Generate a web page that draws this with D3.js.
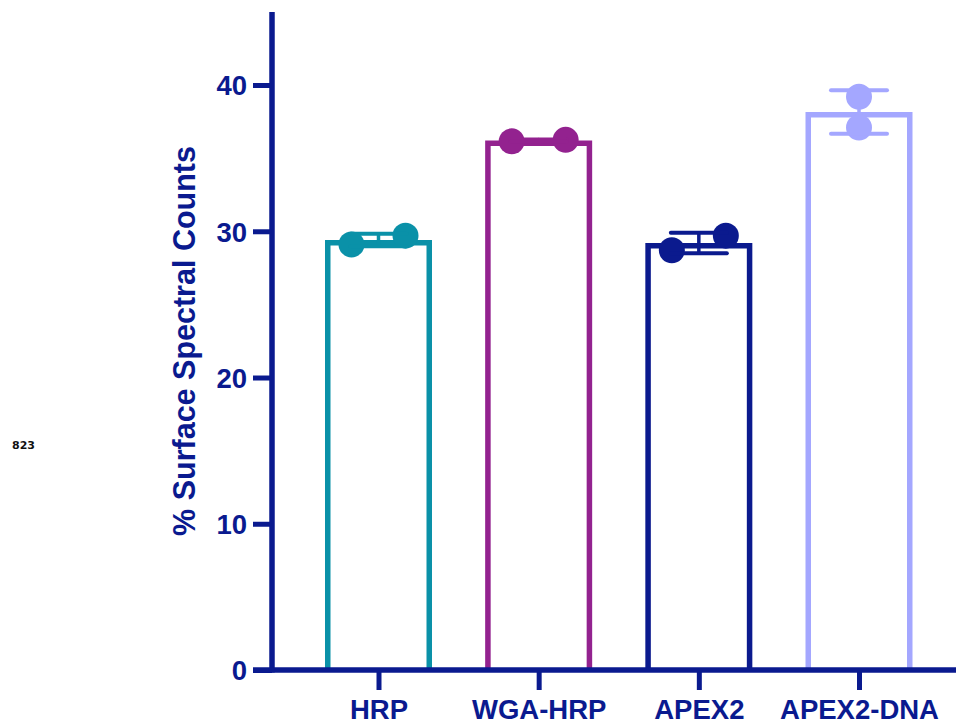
<!DOCTYPE html>
<html>
<head>
<meta charset="utf-8">
<script src="https://cdn.jsdelivr.net/npm/d3@7"></script>
<style>
  html, body { margin: 0; padding: 0; background: #fff; }
  svg { display: block; font-family: Arial, "Liberation Sans", sans-serif; }
</style>
</head>
<body>
<svg id="chart" width="956" height="727"></svg>
<script>
// ---- data ----
const categories = ["HRP", "WGA-HRP", "APEX2", "APEX2-DNA"];
const replicates = [
  [29.1, 29.7],
  [36.15, 36.25],
  [28.7, 29.7],
  [39.2, 37.1]
];
const colors = ["#0A91A8", "#93228F", "#0B1A8E", "#A4A7FF"];
const yTicks = [0, 10, 20, 30, 40];
const yLabel = "% Surface Spectral Counts";
const sideNote = "823";

// ---- layout ----
const axisColor = "#0A1A8F";
const svg = d3.select("#chart");
const y = d3.scaleLinear().domain([0, 45]).range([670, 11.9]);
const x = d3.scalePoint().domain(categories).range([378.5, 859]);
const barW = 107, sw = 5.5, r = 13, dotOff = 27, whisk = 56;

const stats = replicates.map(v => ({ mean: d3.mean(v), sd: d3.deviation(v) }));

// bars (open at the bottom, outline drawn inside the bar extent)
categories.forEach((c, i) => {
  const cx = x(c);
  const m = stats[i].mean;
  const x0 = cx - barW / 2 + sw / 2, x1 = cx + barW / 2 - sw / 2;
  const yt = y(m) + sw / 2, yb = y(0);
  const p = d3.path();
  p.moveTo(x0, yb); p.lineTo(x0, yt); p.lineTo(x1, yt); p.lineTo(x1, yb);
  svg.append("path")
    .attr("d", p.toString())
    .attr("fill", "none")
    .attr("stroke", colors[i])
    .attr("stroke-width", sw)
    .attr("stroke-linejoin", "miter");
});

// dots
categories.forEach((c, i) => {
  const cx = x(c);
  const vals = replicates[i];
  const close = Math.abs(y(vals[0]) - y(vals[1])) < 2 * r;
  vals.forEach((v, j) => {
    const off = close ? (j === 0 ? -dotOff : dotOff) : 0;
    svg.append("circle")
      .attr("cx", cx + off)
      .attr("cy", y(v))
      .attr("r", r)
      .attr("fill", colors[i]);
  });
});

// error bars (mean ± SD)
categories.forEach((c, i) => {
  const cx = x(c);
  const s = stats[i];
  const g = svg.append("g").attr("stroke", colors[i]).attr("stroke-linecap", "round");
  g.append("line").attr("x1", cx).attr("x2", cx)
    .attr("y1", y(s.mean + s.sd)).attr("y2", y(s.mean - s.sd)).attr("stroke-width", 3.5);
  [s.mean + s.sd, s.mean - s.sd].forEach(v => {
    g.append("line").attr("x1", cx - whisk / 2).attr("x2", cx + whisk / 2)
      .attr("y1", y(v)).attr("y2", y(v)).attr("stroke-width", 4);
  });
});

// y axis
const yAxis = svg.append("g").attr("transform", "translate(272,0)")
  .call(d3.axisLeft(y).tickValues(yTicks).tickSize(19).tickPadding(6).tickFormat(d3.format("d")));
yAxis.select(".domain").remove();
yAxis.append("line").attr("x1", 0).attr("x2", 0).attr("y1", y(45)).attr("y2", y(0) + 2.5)
  .attr("stroke", axisColor).attr("stroke-width", 5.5);
yAxis.selectAll(".tick line").attr("stroke", axisColor).attr("stroke-width", 5);
yAxis.selectAll(".tick text").attr("fill", axisColor).attr("font-size", 27.5).attr("font-weight", "bold")
  .attr("font-family", "Arial, 'Liberation Sans', sans-serif").attr("dy", "0.36em");

// x axis
const xAxis = svg.append("g").attr("transform", "translate(0,670)")
  .call(d3.axisBottom(x).tickSize(20).tickPadding(9));
xAxis.select(".domain").remove();
xAxis.append("line").attr("x1", 253).attr("x2", 956).attr("y1", 0).attr("y2", 0)
  .attr("stroke", axisColor).attr("stroke-width", 5.5);
xAxis.selectAll(".tick line").attr("stroke", axisColor).attr("stroke-width", 5);
xAxis.selectAll(".tick text").attr("fill", axisColor).attr("font-size", 27.5).attr("font-weight", "bold")
  .attr("font-family", "Arial, 'Liberation Sans', sans-serif");

// y label
svg.append("text")
  .attr("transform", "translate(195,341) rotate(-90)")
  .attr("text-anchor", "middle")
  .attr("fill", axisColor)
  .attr("font-size", 30.5)
  .attr("font-weight", "bold")
  .text(yLabel);

// side note
svg.append("text")
  .attr("x", 12).attr("y", 449)
  .attr("fill", "#111")
  .attr("font-size", 11)
  .attr("font-weight", "bold")
  .attr("font-family", "'DejaVu Sans', sans-serif")
  .text(sideNote);
</script>
</body>
</html>
